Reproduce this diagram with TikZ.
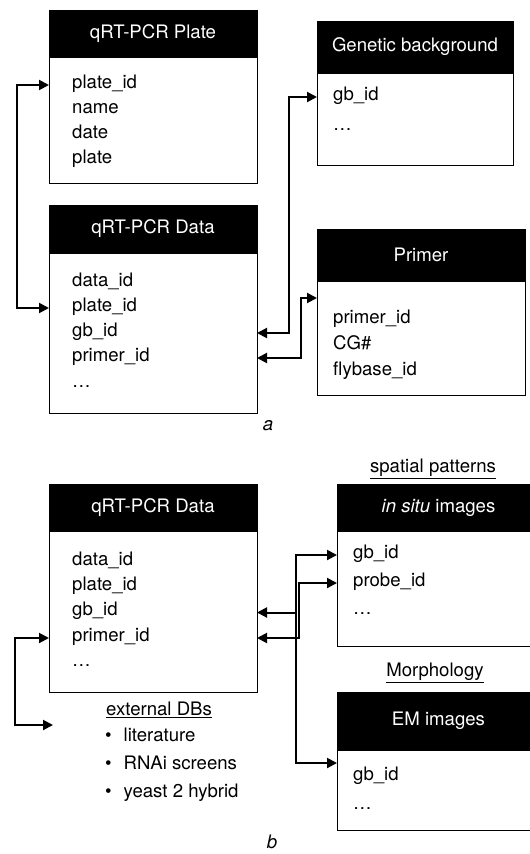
\documentclass[tikz,border=0pt]{standalone}
\usepackage{fontspec}
\setmainfont{TeX Gyre Heros}
\usetikzlibrary{calc, positioning, arrows.meta}

\begin{document}
\begin{tikzpicture}[x=1pt, y=-1pt, >={Triangle[length=10pt, width=10pt]},
    font=\fontsize{18.6}{22}\selectfont,
    tblhead/.style={draw, fill=black, text=white, inner sep=0pt, outer sep=0pt,
                    anchor=north west, line width=1pt},
    tblbody/.style={draw, inner sep=0pt, outer sep=0pt, line width=1pt,
                    below=0pt of #1},
    field/.style={anchor=base west, inner sep=0pt, text height=11pt, text depth=5pt},
    link/.style={line width=2pt}]
  \useasboundingbox (0,0) rectangle (530,854);

  % --- a ---
  \node[tblhead, minimum width=208, minimum height=47] (plate-h) at (49,10) {qRT-PCR Plate};
  \node[tblbody=plate-h, minimum width=208, minimum height=126] (plate) {};
  \node[field] (plate-pid) at (72,88) {plate\_id};
  \node[field] (plate-name) at (72,113) {name};
  \node[field] (plate-date) at (72,138) {date};
  \node[field] (plate-plate) at (72,163) {plate};

  \node[tblhead, minimum width=208, minimum height=48] (data-h) at (49,205) {qRT-PCR Data};
  \node[tblbody=data-h, minimum width=208, minimum height=160] (data) {};
  \node[field] (data-did) at (72,286) {data\_id};
  \node[field] (data-pid) at (72,311) {plate\_id};
  \node[field] (data-gid) at (72,336) {gb\_id};
  \node[field] (data-prid) at (72,361) {primer\_id};
  \node[field] (data-more) at (72,387) {\ldots};

  \node[tblhead, minimum width=196, minimum height=52] (gb-h) at (317,21) {Genetic background};
  \node[tblbody=gb-h, minimum width=196, minimum height=92] (gb) {};
  \node[field] (gb-gid) at (333,100) {gb\_id};
  \node[field] (gb-more) at (333,130) {\ldots};

  \node[tblhead, minimum width=208, minimum height=52] (primer-h) at (317,229) {Primer};
  \node[tblbody=primer-h, minimum width=208, minimum height=114] (primer) {};
  \node[field] (primer-prid) at (333,323) {primer\_id};
  \node[field] (primer-cg) at (333,349) {CG\#};
  \node[field] (primer-fb) at (333,375) {flybase\_id};
  \coordinate (primer-in) at (317,298);

  \node (lbl-a) at (268,426) {\textit{a}};

  \draw[link, <->] (plate.west |- plate-pid.west) -- ++(-32,0) |- (data.west |- data-pid.west);
  \draw[link, <->] (gb.west |- gb-gid.west) -- ++(-28,0) |- (data.east |- data-gid.west);
  \draw[link, <->] (primer-in) -- ++(-16,0) |- (data.east |- data-prid.west);

  % --- b ---
  \node[tblhead, minimum width=208, minimum height=47] (datab-h) at (49,484) {qRT-PCR Data};
  \node[tblbody=datab-h, minimum width=208, minimum height=161] (datab) {};
  \node[field] (datab-did) at (72,565) {data\_id};
  \node[field] (datab-pid) at (72,590) {plate\_id};
  \node[field] (datab-gid) at (72,615.5) {gb\_id};
  \node[field] (datab-prid) at (72,641) {primer\_id};
  \node[field] (datab-more) at (72,666) {\ldots};

  \node (spatial) at (433,469) {\underline{spatial patterns}};
  \node[tblhead, minimum width=203, minimum height=47] (insitu-h) at (337,484) {\textit{in situ} images};
  \node[tblbody=insitu-h, minimum width=203, minimum height=115] (insitu) {};
  \node[field] (insitu-gid) at (353,558) {gb\_id};
  \node[field] (insitu-prid) at (353,586) {probe\_id};
  \node[field] (insitu-more) at (353,614) {\ldots};

  \node (morph) at (435,673) {\underline{Morphology}};
  \node[tblhead, minimum width=203, minimum height=58] (em-h) at (337,692) {EM images};
  \node[tblbody=em-h, minimum width=203, minimum height=80] (em) {};
  \node[field] (em-gid) at (353,780) {gb\_id};
  \node[field] (em-more) at (353,809) {\ldots};
  \coordinate (em-in) at (337,763);

  \node[anchor=west, inner sep=0pt] (ext) at (106,710) {\underline{external DBs}};
  \node[field] (ext-lit) at (105,741) {\textbullet\hspace{12pt}literature};
  \node[field] (ext-rnai) at (105,769) {\textbullet\hspace{12pt}RNAi screens};
  \node[field] (ext-y2h) at (105,797) {\textbullet\hspace{12pt}yeast 2 hybrid};
  \coordinate (ext-in) at (53,725);

  \node (lbl-b) at (272,842) {\textit{b}};

  \coordinate (gbbus) at (296,0);
  \coordinate (prbus) at (298.5,0);
  \draw[link, <->] (datab.west |- datab-prid.west) -- ++(-34,0) |- (ext-in);
  \draw[link, <->] (insitu.west |- insitu-gid.west) -| (gbbus |- em-in) -- (em-in);
  \draw[link, ->] (gbbus |- datab-gid.west) -- (datab.east |- datab-gid.west);
  \draw[link, <->] (insitu.west |- insitu-prid.west) -| (prbus |- datab-prid.west)
    -- (datab.east |- datab-prid.west);
\end{tikzpicture}
\end{document}
